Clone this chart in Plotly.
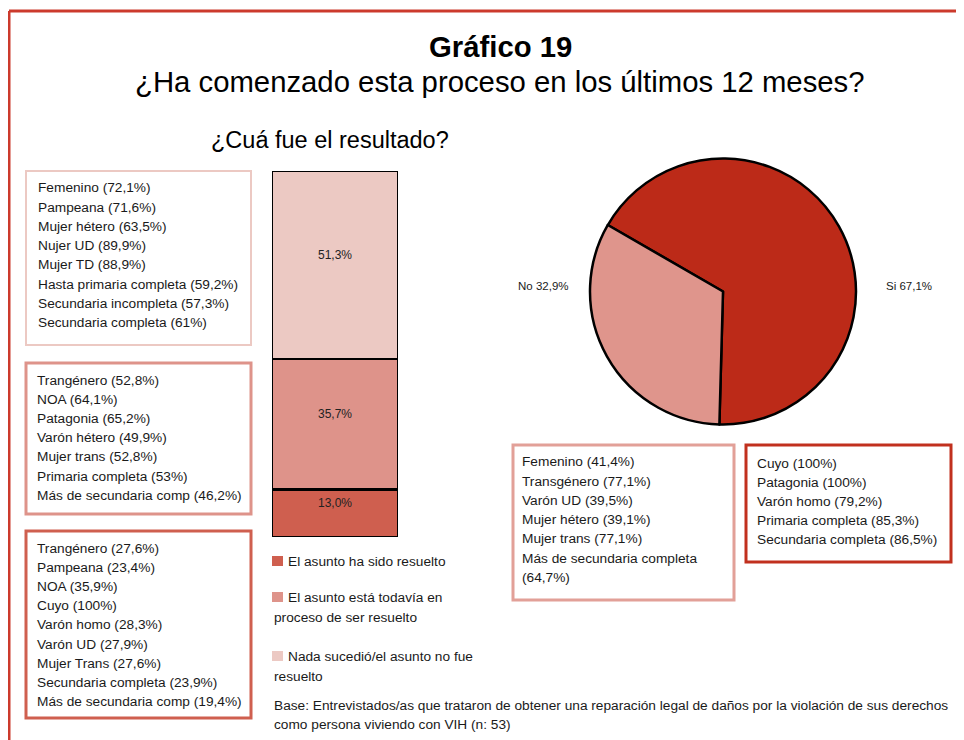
import plotly.graph_objects as go

W, H = 964, 740
OFF = 8  # the page body adds an 8px margin around the figure

# stacked bar: "¿Cuá fue el resultado?"
resultados = ["El asunto ha sido resuelto",
              "El asunto está todavía en<br>proceso de ser resuelto",
              "Nada sucedió/el asunto no fue<br>resuelto"]
resultado_pct = [13.0, 35.7, 51.3]
resultado_lbl = ["13,0%", "35,7%", "51,3%"]
resultado_col = ["#CF5F4F", "#DE938A", "#ECC9C3"]

# pie: "¿Ha comenzado esta proceso...?"
pie_labels = ["Si", "No"]
pie_values = [67.1, 32.9]
pie_text = ["Si 67,1%", "No 32,9%"]
pie_colors = ["#BC2A18", "#DF958C"]

box_nada = ["Femenino (72,1%)", "Pampeana (71,6%)", "Mujer hétero (63,5%)",
            "Nujer UD (89,9%)", "Mujer TD (88,9%)", "Hasta primaria completa (59,2%)",
            "Secundaria incompleta (57,3%)", "Secundaria completa (61%)"]
box_proceso = ["Trangénero (52,8%)", "NOA (64,1%)", "Patagonia (65,2%)",
               "Varón hétero (49,9%)", "Mujer trans (52,8%)", "Primaria completa (53%)",
               "Más de secundaria comp (46,2%)"]
box_resuelto = ["Trangénero (27,6%)", "Pampeana (23,4%)", "NOA (35,9%)", "Cuyo (100%)",
                "Varón homo (28,3%)", "Varón UD (27,9%)", "Mujer Trans (27,6%)",
                "Secundaria completa (23,9%)", "Más de secundaria comp (19,4%)"]
box_no = ["Femenino (41,4%)", "Transgénero (77,1%)", "Varón UD (39,5%)",
          "Mujer hétero (39,1%)", "Mujer trans (77,1%)", "Más de secundaria completa",
          "(64,7%)"]
box_si = ["Cuyo (100%)", "Patagonia (100%)", "Varón homo (79,2%)",
          "Primaria completa (85,3%)", "Secundaria completa (86,5%)"]

footer = ["Base: Entrevistados/as que trataron de obtener una reparación legal de daños por la violación de sus derechos",
          "como persona viviendo con VIH (n: 53)"]

SANS = "Liberation Sans, Arial, sans-serif"
TXT = 13.7
INK = "#1a1a1a"


def px(x):
    return (x - OFF) / W


def py(y):
    return 1 - (y - OFF) / H


fig = go.Figure()

for name, v, col in zip(resultados, resultado_pct, resultado_col):
    fig.add_trace(go.Bar(
        x=["r"], y=[v], name=name, width=1,
        marker=dict(color=col, line=dict(color="black", width=2.5)),
        showlegend=False, hoverinfo="skip",
    ))

fig.add_trace(go.Pie(
    labels=pie_labels, values=pie_values, sort=False, direction="clockwise",
    rotation=-60, textinfo="none", hoverinfo="skip", showlegend=False,
    marker=dict(colors=pie_colors, line=dict(color="black", width=2.5)),
    domain=dict(x=[px(590), px(856)], y=[py(425), py(158)]),
))

fig.update_layout(
    barmode="stack", width=W, height=H, margin=dict(l=0, r=0, t=0, b=0),
    paper_bgcolor="white", plot_bgcolor="white",
    xaxis=dict(domain=[px(272), px(398)], range=[-0.5, 0.5], visible=False, fixedrange=True),
    yaxis=dict(domain=[py(537), py(171)], range=[0, 100], visible=False, fixedrange=True),
)

shapes = []
annotations = []

# outer frame (only top and left edges fall inside the picture)
shapes.append(dict(type="line", xref="paper", yref="paper", x0=px(9), x1=1.01, y0=py(11), y1=py(11),
                   line=dict(color="#CC3A2C", width=3)))
shapes.append(dict(type="line", xref="paper", yref="paper", x0=px(9), x1=px(9), y0=py(11), y1=-0.01,
                   line=dict(color="#CC3A2C", width=3)))

# value labels inside the stacked bar
base = 0
for v, lbl in zip(resultado_pct, resultado_lbl):
    annotations.append(dict(text=lbl, xref="x", yref="y", x=0, y=base + v / 2, yshift=10,
                            showarrow=False, font=dict(family=SANS, size=12, color="#222")))
    base += v


def add_text(t, x, y, size=TXT, anchor="left"):
    annotations.append(dict(text=t, xref="paper", yref="paper", x=px(x), y=py(y),
                            xanchor=anchor, yanchor="middle", showarrow=False,
                            font=dict(family=SANS, size=size, color=INK)))


def add_box(lines, x0, y0, x1, y1, color, lw, tx, ty):
    shapes.append(dict(type="rect", xref="paper", yref="paper", x0=px(x0), x1=px(x1),
                       y0=py(y1), y1=py(y0), line=dict(color=color, width=lw)))
    for i, t in enumerate(lines):
        add_text(t, tx, ty + i * 19.2)


add_box(box_nada, 26, 171, 251, 345, resultado_col[2], 2, 36, 188)
add_box(box_proceso, 26, 363, 251, 514, resultado_col[1], 3, 35, 380)
add_box(box_resuelto, 26, 531, 251, 718, resultado_col[0], 3, 35, 548)
add_box(box_no, 513, 445, 734, 600, "#E2A098", 3, 520, 462)
add_box(box_si, 746, 445, 951, 562, "#C1301E", 3, 755, 463)

# legend for the stacked bar
leg_y = [561, 597, 656]
for name, col, ly in zip(resultados, resultado_col, leg_y):
    shapes.append(dict(type="rect", xref="paper", yref="paper", x0=px(272), x1=px(283),
                       y0=py(ly + 5), y1=py(ly - 5), fillcolor=col, line=dict(width=0)))
    first, *rest = name.split("<br>")
    add_text(first, 286, ly)
    for j, t in enumerate(rest):
        add_text(t, 272, ly + 20 * (j + 1))

# pie labels
add_text(pie_text[1], 571, 286, size=11.5, anchor="right")
add_text(pie_text[0], 884, 286, size=11.5)

# titles
annotations.append(dict(text="<b>Gráfico 19</b>", xref="paper", yref="paper", x=px(501), y=py(46),
                        xanchor="center", yanchor="middle", showarrow=False,
                        font=dict(family=SANS, size=29.3, color="black")))
annotations.append(dict(text="¿Ha comenzado esta proceso en los últimos 12 meses?", xref="paper",
                        yref="paper", x=px(500), y=py(81), xanchor="center", yanchor="middle",
                        showarrow=False, font=dict(family=SANS, size=29.3, color="black")))
annotations.append(dict(text="¿Cuá fue el resultado?", xref="paper", yref="paper", x=px(330), y=py(140),
                        xanchor="center", yanchor="middle", showarrow=False,
                        font=dict(family=SANS, size=23.5, color="black")))

# footer
for i, t in enumerate(footer):
    add_text(t, 272, 705 + 19 * i)

fig.update_layout(shapes=shapes, annotations=annotations)
fig.write_html("out.html")
